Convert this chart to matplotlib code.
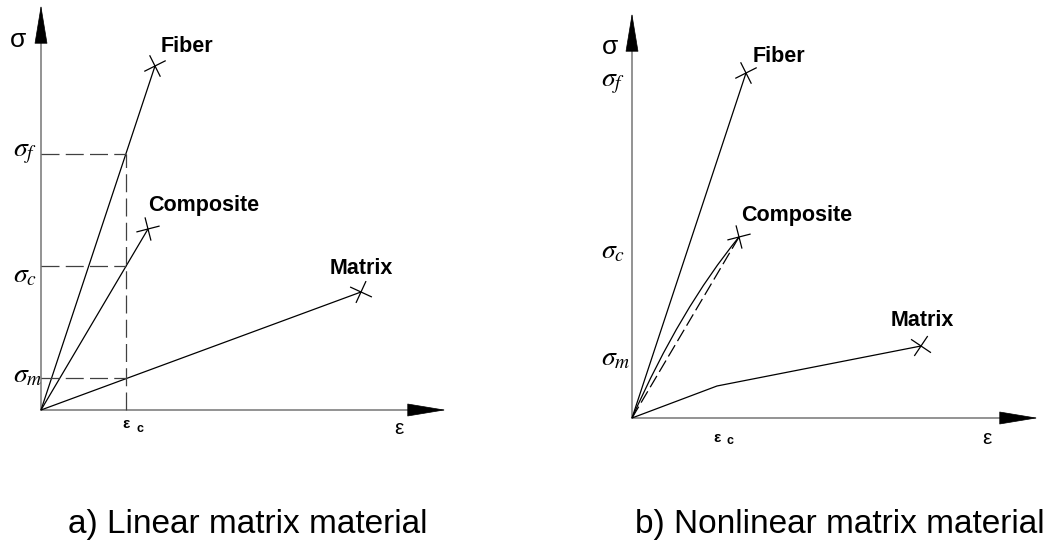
import numpy as np
import matplotlib
matplotlib.use("Agg")
import matplotlib.pyplot as plt
from matplotlib.path import Path
from matplotlib.patches import PathPatch

# ---------------- data (strain, stress in arbitrary units) ----------------
eps_c = 0.85
# left: linear matrix
L_fiber_eps = [0.0, 1.14]
L_fiber_sig = [0.0, 3.44]
L_comp_eps = [0.0, 1.07]
L_comp_sig = [0.0, 1.81]
L_matrix_eps = [0.0, 3.20]
L_matrix_sig = [0.0, 1.18]
L_sigma_levels = [2.56, 1.44, 0.32]          # sigma_f, sigma_c, sigma_m at eps_c
L_sigma_labels = [r"$\sigma_f$", r"$\sigma_c$", r"$\sigma_m$"]

# right: nonlinear matrix
R_fiber_eps = [0.0, 1.14]
R_fiber_sig = [0.0, 3.45]
R_comp_eps = [0.0, 0.485, 1.07]              # start, Bezier control, end
R_comp_sig = [0.0, 1.095, 1.81]
R_matrix_eps = [0.0, 0.85, 2.89]
R_matrix_sig = [0.0, 0.32, 0.72]
R_sigma_levels = [3.36, 1.68, 0.61]          # label heights
R_sigma_labels = [r"$\sigma_f$", r"$\sigma_c$", r"$\sigma_m$"]

captions = ["a) Linear matrix material", "b) Nonlinear matrix material"]

plt.rcParams["mathtext.fontset"] = "stix"
SANS = ["Liberation Sans", "Arial", "DejaVu Sans"]

W, H = 1049, 542
fig = plt.figure(figsize=(W / 100, H / 100), dpi=100)

axL = fig.add_axes([0, 0, 520 / W, 1])
axL.set_xlim(-0.41, 4.79)
axL.set_ylim(-1.32, 4.10)
axR = fig.add_axes([525 / W, 0, 524 / W, 1])
axR.set_xlim(-1.07, 4.17)
axR.set_ylim(-1.24, 4.18)
for ax in (axL, axR):
    ax.set_axis_off()

LINE = dict(color="black", lw=0.9, clip_on=False, solid_capstyle="butt")
AXCOL = "#808080"


def draw_axes(ax, xline, xtip, yline, ytip):
    ax.plot([0, xline], [0, 0], color=AXCOL, lw=1.2, clip_on=False)
    ax.plot([0, 0], [0, yline], color=AXCOL, lw=1.2, clip_on=False)
    ap = dict(arrowstyle="-|>,head_length=26,head_width=4.3", color="black",
              mutation_scale=1, shrinkA=0, shrinkB=0, lw=0.5)
    ax.annotate("", xy=(xtip, 0), xytext=(xline, 0), arrowprops=ap,
                annotation_clip=False)
    ax.annotate("", xy=(0, ytip), xytext=(0, yline), arrowprops=ap,
                annotation_clip=False)


def cross(ax, p, q, h=0.12):
    d = np.arctan2(p[1] - q[1], p[0] - q[0])
    for a in (d + np.pi / 4, d - np.pi / 4):
        ux, uy = np.cos(a) * h, np.sin(a) * h
        ax.plot([p[0] - ux, p[0] + ux], [p[1] - uy, p[1] + uy], **LINE)


bold = dict(fontsize=15.5, fontweight="bold", family=SANS, ha="center", va="center")

# ---------------- left panel ----------------
draw_axes(axL, 3.69, 4.05, 3.68, 4.05)
axL.plot(L_fiber_eps, L_fiber_sig, **LINE)
axL.plot(L_comp_eps, L_comp_sig, **LINE)
axL.plot(L_matrix_eps, L_matrix_sig, **LINE)
cross(axL, (L_fiber_eps[-1], L_fiber_sig[-1]), (L_fiber_eps[0], L_fiber_sig[0]))
cross(axL, (L_comp_eps[-1], L_comp_sig[-1]), (L_comp_eps[0], L_comp_sig[0]))
cross(axL, (L_matrix_eps[-1], L_matrix_sig[-1]), (L_matrix_eps[0], L_matrix_sig[0]))

DASH = dict(color="#404040", lw=0.9, dashes=(14.4, 5.0), clip_on=False)
for s in L_sigma_levels:
    axL.plot([0, eps_c], [s, s], **DASH)
axL.plot([eps_c, eps_c], [0, max(L_sigma_levels)], **DASH)

for s, lab, dy in zip(L_sigma_levels, L_sigma_labels, [0.02, -0.08, 0.04]):
    axL.text(-0.28, s + dy, lab, fontsize=20, ha="left", va="center")

axL.text(-0.23, 3.70, "σ", fontsize=19, family=SANS, ha="center", va="center")
axL.text(1.46, 3.64, "Fiber", **bold)
axL.text(1.63, 2.05, "Composite", **bold)
axL.text(3.20, 1.42, "Matrix", **bold)
axL.text(eps_c, -0.14, "ε", fontsize=11, fontweight="bold", family=SANS,
         ha="center", va="center")
axL.text(eps_c + 0.14, -0.185, "c", fontsize=9, fontweight="bold", family=SANS,
         ha="center", va="center")
axL.text(3.58, -0.18, "ε", fontsize=15, family=SANS, ha="center", va="center")

# ---------------- right panel ----------------
draw_axes(axR, 3.70, 4.06, 3.68, 4.05)
axR.plot(R_fiber_eps, R_fiber_sig, **LINE)
comp_path = Path(list(zip(R_comp_eps, R_comp_sig)),
                 [Path.MOVETO, Path.CURVE3, Path.CURVE3])
axR.add_patch(PathPatch(comp_path, facecolor="none", edgecolor="black",
                        lw=0.9, clip_on=False))
axR.plot([R_comp_eps[0], R_comp_eps[-1]], [R_comp_sig[0], R_comp_sig[-1]],
         color="black", lw=0.9, dashes=(10.5, 3.8), clip_on=False)
axR.plot(R_matrix_eps, R_matrix_sig, **LINE)
cross(axR, (R_fiber_eps[-1], R_fiber_sig[-1]), (R_fiber_eps[0], R_fiber_sig[0]))
cross(axR, (R_comp_eps[-1], R_comp_sig[-1]), (R_comp_eps[0], R_comp_sig[0]))
cross(axR, (R_matrix_eps[-1], R_matrix_sig[-1]), (R_matrix_eps[1], R_matrix_sig[1]))

for s, lab in zip(R_sigma_levels, R_sigma_labels):
    axR.text(-0.31, s, lab, fontsize=20, ha="left", va="center")

axR.text(-0.22, 3.71, "σ", fontsize=19, family=SANS, ha="center", va="center")
axR.text(1.47, 3.61, "Fiber", **bold)
axR.text(1.65, 2.02, "Composite", **bold)
axR.text(2.90, 0.98, "Matrix", **bold)
axR.text(eps_c, -0.195, "ε", fontsize=11, fontweight="bold", family=SANS,
         ha="center", va="center")
axR.text(eps_c + 0.13, -0.23, "c", fontsize=9, fontweight="bold", family=SANS,
         ha="center", va="center")
axR.text(3.55, -0.21, "ε", fontsize=15, family=SANS, ha="center", va="center")

# ---------------- captions ----------------
fig.text(248 / W, (H - 533) / H, captions[0], fontsize=24, family=SANS,
         ha="center", va="baseline")
fig.text(840 / W, (H - 533) / H, captions[1], fontsize=24, family=SANS,
         ha="center", va="baseline")

fig.savefig("out.png", dpi=100, facecolor="white")
